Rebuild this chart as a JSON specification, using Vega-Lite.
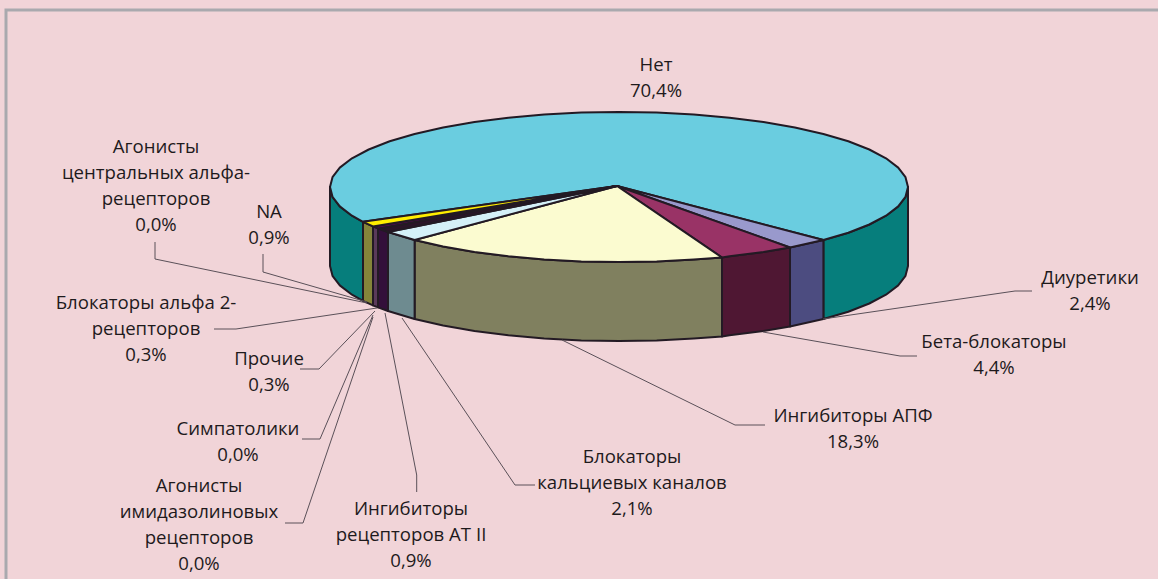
{
"$schema":"https://vega.github.io/schema/vega-lite/v6.json",
"width":1158,"height":579,"padding":0,"autosize":"none","background":"#F1D4D8",
"config":{"view":{"stroke":null}},
"encoding":{
"x":{"field":"xs","type":"quantitative","axis":null,"scale":{"domain":[0,1158],"nice":false,"zero":false}},
"y":{"field":"ys","type":"quantitative","axis":null,"scale":{"domain":[579,0],"nice":false,"zero":false}}
},
"layer":[
{"data":{"values":[{"s":"frame","xs":[1158,6,6],"ys":[10,10,579]}]},
"transform":[{"flatten":["xs","ys"]}],
"mark":{"type":"line","stroke":"#A9A9AE","strokeWidth":3,"strokeJoin":"miter"},
"encoding":{"detail":{"field":"s"},"order":{"value":null}}},
{"data":{"values":[
{"s":"Нет бок правый","xs":[823.4,848.3,869.3,886,898.2,905.5,908,908,905.5,898.2,886,869.3,848.3,823.4,823.4],"ys":[240,232.7,224.5,215.7,206.4,196.8,187,266,275.8,285.4,294.7,303.5,311.7,319,240]},
{"s":"Нет бок левый","xs":[363,352,339.8,332.5,330,330,332.5,339.8,352,363,363],"ys":[221.8,215.7,206.4,196.8,187,266,275.8,285.4,294.7,300.8,221.8]},
{"s":"Диуретики бок","xs":[823.4,790,790,823.4,823.4],"ys":[240,247.5,326.5,319,240]},
{"s":"Бета бок","xs":[790,763.5,729.6,722,722,729.6,763.5,790,790],"ys":[247.5,252,256.3,257.5,336.5,335.3,331,326.5,247.5]},
{"s":"АПФ бок","xs":[722,693.8,656.7,619,581.3,544.2,508.4,474.5,443.1,414.6,414.6,443.1,474.5,508.4,544.2,581.3,619,656.7,693.8,722,722],"ys":[257.5,259.4,261.4,262,261.4,259.4,256.3,252,246.5,240,319,325.5,331,335.3,338.4,340.4,341,340.4,338.4,336.5,257.5]},
{"s":"Кальциевых бок","xs":[414.6,388,388,414.6,414.6],"ys":[240,232,311,319,240]},
{"s":"АТ II бок","xs":[388,378,378,388,388],"ys":[232,228.4,307.4,311,232]},
{"s":"Прочие бок","xs":[378,373,373,378,378],"ys":[228.4,226.4,305.4,307.4,228.4]},
{"s":"NA бок","xs":[373,363,363,373,373],"ys":[226.4,221.8,300.8,305.4,226.4]},
{"s":"Нет","xs":[823.4,848.3,869.3,886,898.2,905.5,908,905.5,898.2,886,869.3,848.3,823.4,794.9,763.5,729.6,693.8,656.7,619,581.3,544.2,508.4,474.5,443.1,414.6,389.7,368.7,352,339.8,332.5,330,332.5,339.8,352,363,617,823.4],"ys":[240,232.7,224.5,215.7,206.4,196.8,187,177.2,167.6,158.3,149.5,141.3,134,127.5,122,117.7,114.6,112.6,112,112.6,114.6,117.7,122,127.5,134,141.3,149.5,158.3,167.6,177.2,187,196.8,206.4,215.7,221.8,186,240]},
{"s":"Диуретики","xs":[617,823.4,790,617],"ys":[186,240,247.5,186]},
{"s":"Бета","xs":[617,790,763.5,729.6,722,617],"ys":[186,247.5,252,256.3,257.5,186]},
{"s":"АПФ","xs":[617,722,693.8,656.7,619,581.3,544.2,508.4,474.5,443.1,414.6,617],"ys":[186,257.5,259.4,261.4,262,261.4,259.4,256.3,252,246.5,240,186]},
{"s":"Кальциевых","xs":[617,414.6,388,617],"ys":[186,240,232,186]},
{"s":"АТ II","xs":[617,388,378,617],"ys":[186,232,228.4,186]},
{"s":"Прочие","xs":[617,378,373,617],"ys":[186,228.4,226.4,186]},
{"s":"NA","xs":[617,373,363,617],"ys":[186,226.4,221.8,186]}
]},
"transform":[{"flatten":["xs","ys"]}],
"mark":{"type":"line","stroke":"#231A24","strokeWidth":2,"strokeJoin":"round"},
"encoding":{"order":{"value":null},
"fill":{"field":"s","type":"nominal","legend":null,"scale":{
"domain":["Нет бок правый","Нет бок левый","Диуретики бок","Бета бок","АПФ бок","Кальциевых бок","АТ II бок","Прочие бок","NA бок","Нет","Диуретики","Бета","АПФ","Кальциевых","АТ II","Прочие","NA"],
"range":["#067E7C","#067E7C","#4C4C80","#4F1733","#80805F","#6E8B90","#330F3A","#5A3A5A","#85853A","#6ACDE0","#9999CC","#993366","#FBFBD0","#D4F0F8","#2A1528","#660066","#FFEE00"]}}}},
{"data":{"values":[
{"s":"Диуретики","xs":[823,1015,1032],"ys":[319,291,291]},
{"s":"Бета-блокаторы","xs":[763,900,917],"ys":[332,356,356]},
{"s":"Ингибиторы АПФ","xs":[562,735,765],"ys":[340,425,425]},
{"s":"Блокаторы кальциевых каналов","xs":[402,515,535],"ys":[318,485,485]},
{"s":"Ингибиторы рецепторов АТ II","xs":[385,416.7,416.7],"ys":[313,475,492]},
{"s":"Агонисты имидазолиновых рецепторов","xs":[373,303,285],"ys":[317,523,523]},
{"s":"Симпатолики","xs":[373,320,302],"ys":[315,439,439]},
{"s":"Прочие","xs":[375,319,300],"ys":[311,369,369]},
{"s":"Блокаторы альфа 2-рецепторов","xs":[377,236,214],"ys":[308,329,329]},
{"s":"NA","xs":[367,263,263],"ys":[302,272,254]},
{"s":"Агонисты центральных альфа-рецепторов","xs":[367,155,155],"ys":[303,259,242]}
]},
"transform":[{"flatten":["xs","ys"]}],
"mark":{"type":"line","stroke":"#5A5058","strokeWidth":1},
"encoding":{"detail":{"field":"s"},"order":{"value":null}}},
{"data":{"values":[
{"label":"Нет\n70,4%","xs":656,"ys":65},
{"label":"Агонисты\nцентральных альфа-\nрецепторов\n0,0%","xs":156,"ys":147},
{"label":"NA\n0,9%","xs":269,"ys":212},
{"label":"Блокаторы альфа 2-\nрецепторов\n0,3%","xs":146,"ys":303},
{"label":"Прочие\n0,3%","xs":269,"ys":359},
{"label":"Симпатолики\n0,0%","xs":238,"ys":429},
{"label":"Агонисты\nимидазолиновых\nрецепторов\n0,0%","xs":199,"ys":486},
{"label":"Ингибиторы\nрецепторов АТ II\n0,9%","xs":411,"ys":509},
{"label":"Блокаторы\nкальциевых каналов\n2,1%","xs":632,"ys":457},
{"label":"Ингибиторы АПФ\n18,3%","xs":853,"ys":416},
{"label":"Бета-блокаторы\n4,4%","xs":994,"ys":342},
{"label":"Диуретики\n2,4%","xs":1090,"ys":278}
]},
"mark":{"type":"text","font":"Open Sans","fontSize":18.6,"color":"#1E1A1C","lineBreak":"\n","lineHeight":26,"align":"center","baseline":"middle"},
"encoding":{"text":{"field":"label","type":"nominal"}}}
]
}
